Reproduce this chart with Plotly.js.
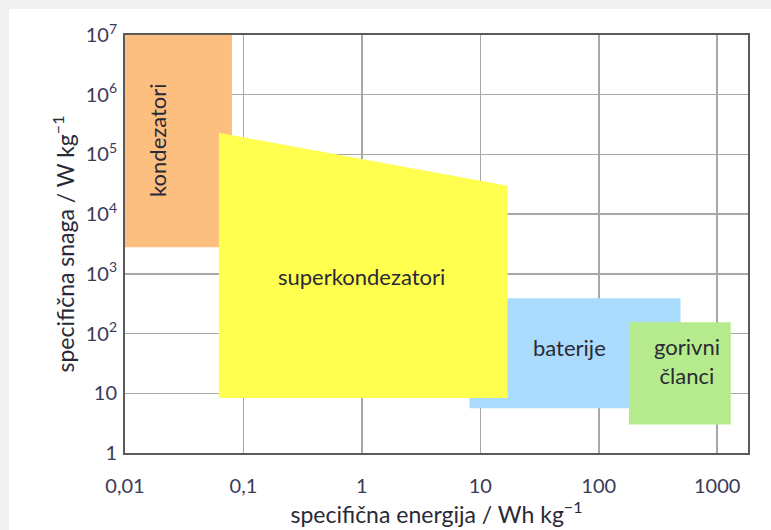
<!DOCTYPE html>
<html>
<head>
<meta charset="utf-8">
<script src="https://cdn.plot.ly/plotly-3.0.1.min.js"></script>
<style>
  html, body { margin: 0; padding: 0; background: #f1f1f1; }
  #chart { position: absolute; left: 9px; top: 9px; width: 762px; height: 521px; background: #fff; }
</style>
</head>
<body>
<div id="chart"></div>
<script>
// Region outlines (specific energy Wh/kg, specific power W/kg)
const kondezatoriX = [0.01, 0.08, 0.08, 0.01];
const kondezatoriY = [1e7, 1e7, 2800, 2800];
const superkondX = [0.062, 17, 17, 0.062];
const superkondY = [2.3e5, 3.0e4, 8.3, 8.3];
const baterijeX = [8.1, 490, 490, 8.1];
const baterijeY = [390, 390, 5.6, 5.6];
const gorivniX = [180, 1300, 1300, 180];
const gorivniY = [155, 155, 3.0, 3.0];

const regionColors = ['#fdbf80', '#aadbfc', '#ffff4f', '#b5eb8c'];

// Label positions
const labelText = ['kondezatori', 'superkondezatori', 'baterije', 'gorivni<br>članci'];
const labelX = [0.019, 1.0, 57, 560];
const labelY = [1.75e5, 900, 59, 35];
const labelAngle = [-90, 0, 0, 0];

// Axis ticks
const xTickVals = [0.01, 0.1, 1, 10, 100, 1000];
const xTickText = ['0,01', '0,1', '1', '10', '100', '1000'];
const yTickVals = [1, 10, 100, 1000, 1e4, 1e5, 1e6, 1e7];
const yTickText = ['1', '10', '10<sup>2</sup>', '10<sup>3</sup>', '10<sup>4</sup>', '10<sup>5</sup>', '10<sup>6</sup>', '10<sup>7</sup>'];

const regions = [
  [kondezatoriX, kondezatoriY],
  [baterijeX, baterijeY],
  [superkondX, superkondY],
  [gorivniX, gorivniY]
];

const traces = regions.map((r, i) => ({
  x: r[0], y: r[1], type: 'scatter', mode: 'lines',
  fill: 'toself', fillcolor: regionColors[i],
  line: { width: 0, color: regionColors[i] },
  hoverinfo: 'skip', showlegend: false
}));

const fontFam = 'Lato, "Open Sans", sans-serif';
const textCol = '#2a2a36';
const tickCol = '#3a3a58';

const annotations = labelText.map((t, i) => ({
  x: Math.log10(labelX[i]), y: Math.log10(labelY[i]),
  xref: 'x', yref: 'y', text: t, showarrow: false,
  textangle: labelAngle[i],
  font: { family: fontFam, size: 22, color: textCol }
}));

const layout = {
  width: 762, height: 521,
  margin: { l: 116, r: 23, t: 26, b: 77 },
  paper_bgcolor: '#ffffff', plot_bgcolor: '#ffffff',
  showlegend: false,
  xaxis: {
    type: 'log', range: [-2, 3.26],
    tickvals: xTickVals, ticktext: xTickText,
    showgrid: true, gridcolor: '#a8a8a8', gridwidth: 1.5,
    showline: true, linecolor: '#5a5a5a', linewidth: 2, mirror: true,
    ticks: '', zeroline: false, ticklabelstandoff: 14,
    tickfont: { family: fontFam, size: 20, color: tickCol },
    title: { text: 'specifična energija / Wh kg<sup>−1</sup>', font: { family: fontFam, size: 23, color: textCol }, standoff: 4 }
  },
  yaxis: {
    type: 'log', range: [0, 7],
    tickvals: yTickVals, ticktext: yTickText,
    showgrid: true, gridcolor: '#a8a8a8', gridwidth: 1.5,
    showline: true, linecolor: '#5a5a5a', linewidth: 2, mirror: true,
    ticks: '', zeroline: false, ticklabelstandoff: 2,
    tickfont: { family: fontFam, size: 20, color: tickCol },
    title: { text: 'specifična snaga / W kg<sup>−1</sup>', font: { family: fontFam, size: 23, color: textCol }, standoff: 5 }
  },
  annotations: annotations
};

Plotly.newPlot('chart', traces, layout, { displayModeBar: false, staticPlot: true });
</script>
</body>
</html>
